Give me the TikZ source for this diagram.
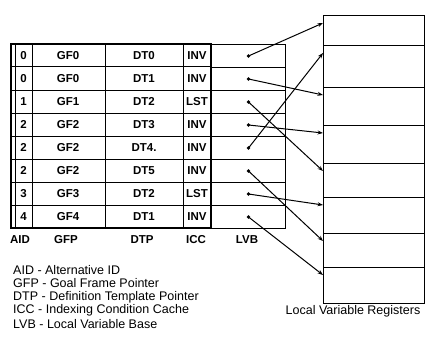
\documentclass[tikz,border=0pt]{standalone}
\usepackage{fontspec}
\setmainfont{Liberation Sans}
\usetikzlibrary{arrows.meta}
\begin{document}
\begin{tikzpicture}[x=1pt,y=-1pt,
  gridline/.style={line width=1pt},
  frameline/.style={line width=1.4pt},
  celltext/.style={font=\fontsize{11.5}{13}\selectfont\bfseries, inner sep=0pt},
  labeltext/.style={font=\fontsize{11.5}{13}\selectfont\bfseries, inner sep=0pt},
  legendtext/.style={font=\fontsize{12.5}{13.5}\selectfont, inner sep=0pt, anchor=west},
  lvbcell/.style={draw, line width=1pt, minimum width=74pt, minimum height=23pt, inner sep=0pt, anchor=north west},
  regcell/.style={draw, line width=1pt, minimum width=101pt, inner sep=0pt, anchor=north west},
  dotmark/.style={circle, fill, inner sep=0pt, minimum size=3.8pt},
  ptr/.style={line width=1pt, -{Stealth[length=5.5pt,width=4pt]}}]
\useasboundingbox (0,0) rectangle (443,350);

% main table (AID .. ICC)
\draw[frameline] (11,44) rectangle (211,228);
\foreach \i in {1,...,7} \draw[gridline] (11,44+23*\i) -- (211,44+23*\i);
\foreach \x in {32,105,183} \draw[gridline] (\x,44) -- (\x,228);
\draw[gridline] (15,44) -- (15,228);

% cell texts
\foreach \a/\g/\d/\c [count=\i from 0] in {0/GF0/DT0/INV,0/GF0/DT1/INV,1/GF1/DT2/LST,2/GF2/DT3/INV,2/GF2/DT4./INV,2/GF2/DT5/INV,3/GF3/DT2/LST,4/GF4/DT1/INV}{
  \node[celltext] (aid\i) at (23.5,55.5+23*\i) {\a};
  \node[celltext] (gfp\i) at (68,55.5+23*\i) {\g};
  \node[celltext] (dtp\i) at (144,55.5+23*\i) {\d};
  \node[celltext] (icc\i) at (197,55.5+23*\i) {\c};
}

% LVB column
\foreach \i in {0,...,7}{
  \node[lvbcell] (lvb\i) at (211,44+23*\i) {};
  \node[dotmark] (dot\i) at (lvb\i.center) {};
}

% column labels
\node[labeltext] (lblaid) at (20,240) {AID};
\node[labeltext] (lblgfp) at (66,240) {GFP};
\node[labeltext] (lbldtp) at (142,240) {DTP};
\node[labeltext] (lblicc) at (196,240) {ICC};
\node[labeltext] (lbllvb) at (247,240) {LVB};

% registers
\foreach \t/\h [count=\j from 0] in {15/30,45/42,87/38,125/38,163/34,197/36,233/34,267/36}{
  \node[regcell, minimum height=\h pt] (reg\j) at (323,\t) {};
}

% pointers
\foreach \s/\r in {0/0,1/2,2/4,3/3,4/1,5/6,6/5,7/7}{
  \draw[ptr] (dot\s.center) -- ([yshift=-8pt]reg\r.north west);
}

% legend
\node[legendtext] (leg1) at (13,270) {AID - Alternative ID};
\node[legendtext] (leg2) at (13,283.5) {GFP - Goal Frame Pointer};
\node[legendtext] (leg3) at (13,297) {DTP - Definition Template Pointer};
\node[legendtext] (leg4) at (13,310.5) {ICC - Indexing Condition Cache};
\node[legendtext] (leg5) at (13,324) {LVB - Local Variable Base};

\node[legendtext, anchor=center] (regcap) at (353,311) {Local Variable Registers};
\end{tikzpicture}
\end{document}
